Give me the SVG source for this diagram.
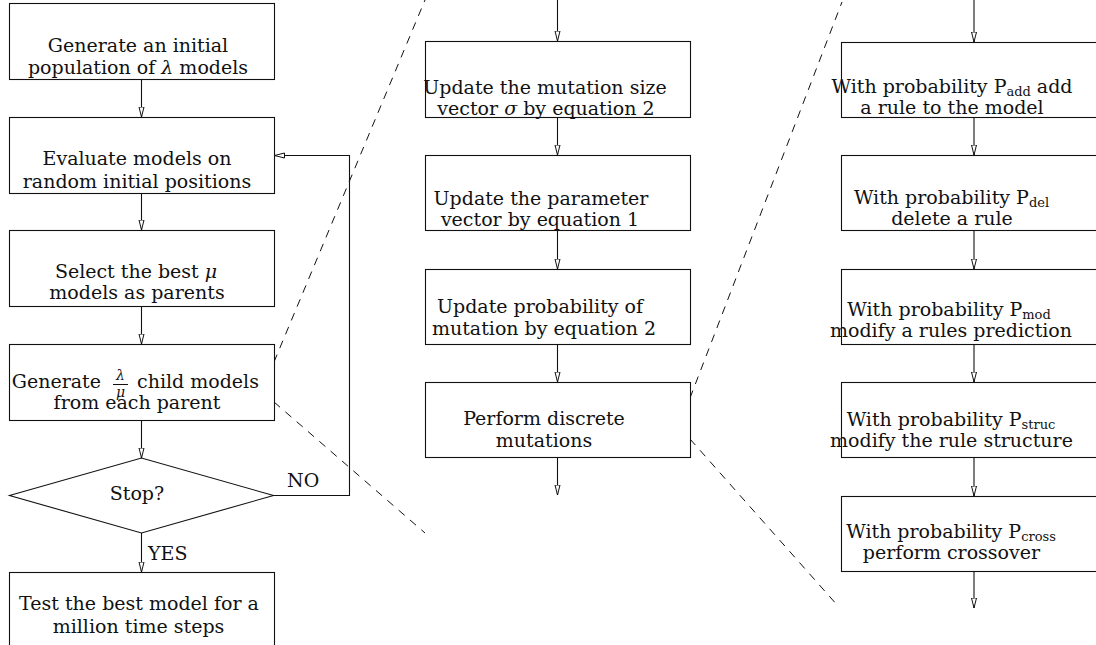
<svg xmlns="http://www.w3.org/2000/svg" width="1096" height="645" viewBox="0 0 1096 645">
<style>
.box{fill:#fff;stroke:#111;stroke-width:1.1}
.ln{fill:none;stroke:#111;stroke-width:1.1}
.dash{fill:none;stroke:#111;stroke-width:1;stroke-dasharray:8 7}
text{font-family:"DejaVu Serif","Liberation Serif",serif;font-size:19px;fill:#111}
.c{text-anchor:middle}
.m{font-style:italic}
.sub{font-size:13px}
.fr{font-size:14px;font-style:italic;text-anchor:middle}
</style>
<defs>
<marker id="ah" markerUnits="userSpaceOnUse" markerWidth="12" markerHeight="8" refX="10.5" refY="3" orient="auto">
<path d="M0.5,0.5 L10.5,3 L0.5,5.5 Z" fill="#fff" stroke="#111" stroke-width="1"/>
</marker>
</defs>

<g id="connectors">
<line class="ln" x1="141.5" y1="79" x2="141.5" y2="117" marker-end="url(#ah)"/>
<line class="ln" x1="141.5" y1="193" x2="141.5" y2="230" marker-end="url(#ah)"/>
<line class="ln" x1="141.5" y1="306" x2="141.5" y2="344" marker-end="url(#ah)"/>
<line class="ln" x1="141.5" y1="420" x2="141.5" y2="458" marker-end="url(#ah)"/>
<line class="ln" x1="141.5" y1="533" x2="141.5" y2="572" marker-end="url(#ah)"/>
<polyline class="ln" points="274,495.5 349.5,495.5 349.5,155.5 274.5,155.5" marker-end="url(#ah)"/>
<text x="287" y="487">NO</text>
<text x="148" y="560">YES</text>

<line class="ln" x1="557.5" y1="0" x2="557.5" y2="41" marker-end="url(#ah)"/>
<line class="ln" x1="557.5" y1="117" x2="557.5" y2="155" marker-end="url(#ah)"/>
<line class="ln" x1="557.5" y1="230" x2="557.5" y2="269" marker-end="url(#ah)"/>
<line class="ln" x1="557.5" y1="344" x2="557.5" y2="382" marker-end="url(#ah)"/>
<line class="ln" x1="557.5" y1="457" x2="557.5" y2="495" marker-end="url(#ah)"/>

<line class="ln" x1="974" y1="0" x2="974" y2="42" marker-end="url(#ah)"/>
<line class="ln" x1="974" y1="117" x2="974" y2="155" marker-end="url(#ah)"/>
<line class="ln" x1="974" y1="230" x2="974" y2="269" marker-end="url(#ah)"/>
<line class="ln" x1="974" y1="344" x2="974" y2="382" marker-end="url(#ah)"/>
<line class="ln" x1="974" y1="457" x2="974" y2="496" marker-end="url(#ah)"/>
<line class="ln" x1="974" y1="571" x2="974" y2="608" marker-end="url(#ah)"/>

<line class="dash" x1="274" y1="362" x2="425" y2="0"/>
<line class="dash" x1="274" y1="402" x2="425" y2="533"/>
<line class="dash" x1="690" y1="398" x2="842" y2="2"/>
<line class="dash" x1="690" y1="439" x2="838" y2="606"/>
</g>

<g id="n1"><rect class="box" x="9.5" y="3.5" width="265" height="76"/>
<text class="c" x="138" y="52">Generate an initial</text>
<text class="c" x="138" y="74">population of <tspan class="m">λ</tspan> models</text></g>

<g id="n2"><rect class="box" x="9.5" y="117.5" width="265" height="76"/>
<text class="c" x="137" y="165">Evaluate models on</text>
<text class="c" x="137" y="188">random initial positions</text></g>

<g id="n3"><rect class="box" x="9.5" y="230.5" width="265" height="76"/>
<text class="c" x="136" y="278">Select the best <tspan class="m">μ</tspan></text>
<text class="c" x="137" y="299">models as parents</text></g>

<g id="n4"><rect class="box" x="9.5" y="344.5" width="265" height="76"/>
<text x="101" y="388" text-anchor="end">Generate</text>
<text class="fr" x="120.5" y="380">λ</text>
<line x1="113" y1="384.5" x2="128" y2="384.5" stroke="#111" stroke-width="1"/>
<text class="fr" x="120.5" y="397">μ</text>
<text x="137" y="388">child models</text>
<text class="c" x="137" y="409">from each parent</text></g>

<g id="n5"><polygon class="box" points="9.5,495.5 141.5,458 273.5,495.5 141.5,533"/>
<text class="c" x="137" y="500">Stop?</text></g>

<g id="n6"><rect class="box" x="9.5" y="572.5" width="265" height="80"/>
<text class="c" x="139" y="610">Test the best model for a</text>
<text class="c" x="138.5" y="633">million time steps</text></g>

<g id="m1"><rect class="box" x="425.5" y="41.5" width="265" height="76"/>
<text class="c" x="545" y="94">Update the mutation size</text>
<text class="c" x="546" y="115">vector <tspan class="m">σ</tspan> by equation 2</text></g>

<g id="m2"><rect class="box" x="425.5" y="155.5" width="265" height="75"/>
<text class="c" x="541" y="205">Update the parameter</text>
<text class="c" x="540" y="226">vector by equation 1</text></g>

<g id="m3"><rect class="box" x="425.5" y="269.5" width="265" height="75"/>
<text class="c" x="540" y="313">Update probability of</text>
<text class="c" x="544" y="335">mutation by equation 2</text></g>

<g id="m4"><rect class="box" x="425.5" y="382.5" width="265" height="75"/>
<text class="c" x="544" y="425">Perform discrete</text>
<text class="c" x="544" y="447">mutations</text></g>

<g id="r1"><rect class="box" x="841.5" y="42.5" width="265" height="75"/>
<text class="c" x="952" y="93">With probability P<tspan class="sub" dy="3">add</tspan><tspan dy="-3"> add</tspan></text>
<text class="c" x="952" y="114">a rule to the model</text></g>

<g id="r2"><rect class="box" x="841.5" y="155.5" width="265" height="75"/>
<text class="c" x="951.5" y="204">With probability P<tspan class="sub" dy="3">del</tspan></text>
<text class="c" x="952" y="225">delete a rule</text></g>

<g id="r3"><rect class="box" x="841.5" y="269.5" width="265" height="75"/>
<text class="c" x="949" y="316">With probability P<tspan class="sub" dy="3">mod</tspan></text>
<text class="c" x="951" y="337">modify a rules prediction</text></g>

<g id="r4"><rect class="box" x="841.5" y="382.5" width="265" height="75"/>
<text class="c" x="951" y="426">With probability P<tspan class="sub" dy="3">struc</tspan></text>
<text class="c" x="951.5" y="447">modify the rule structure</text></g>

<g id="r5"><rect class="box" x="841.5" y="496.5" width="265" height="75"/>
<text class="c" x="951" y="538">With probability P<tspan class="sub" dy="3">cross</tspan></text>
<text class="c" x="951.5" y="559">perform crossover</text></g>
</svg>
